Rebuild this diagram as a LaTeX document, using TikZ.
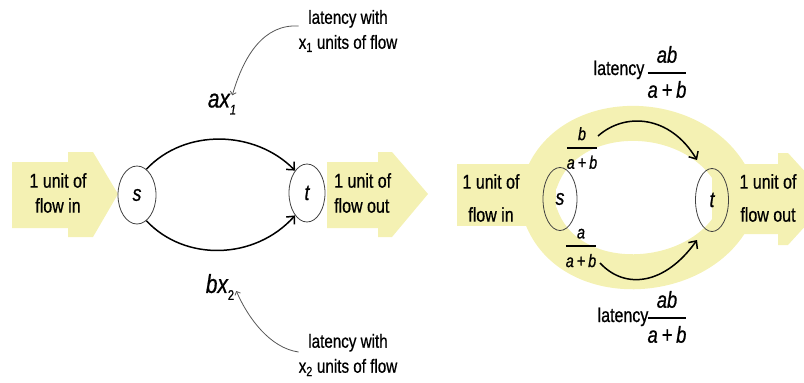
\documentclass[tikz,border=0pt]{standalone}
\usepackage{amsmath}
\usepackage{fontspec}
\setmainfont{Liberation Sans}[FakeStretch=0.8,FakeBold=0.7]
\usetikzlibrary{shapes.geometric,arrows.meta}
\definecolor{bandyel}{HTML}{F4F1B3}
\definecolor{inkgray}{HTML}{555555}
\newcommand\myfrac[2]{\ensuremath{\genfrac{}{}{2.2pt}{0}{\text{\itshape #1}}{\text{\itshape #2}}}}
\tikzset{
  band/.style={fill=bandyel,draw=none},
  lbl/.style={font=\fontsize{20}{25}\selectfont, align=center, inner sep=0pt},
  note/.style={font=\fontsize{19}{25}\selectfont, align=center, inner sep=0pt},
  nd/.style={ellipse, draw=black!75, line width=0.8pt, minimum width=38pt, minimum height=58pt, inner sep=0pt, font=\fontsize{22}{26}\selectfont\itshape},
  edgearr/.style={line width=1.5pt, -{Straight Barb[length=6pt,width=11pt,line width=1.5pt]}},
  ann/.style={draw=inkgray, line width=0.8pt, -{Straight Barb[length=3pt,width=6pt]}},
  var/.style={font=\fontsize{26}{30}\selectfont\itshape, inner sep=0pt},
  frc/.style={font=\fontsize{23}{28}\selectfont, inner sep=0pt},
  sfrc/.style={font=\fontsize{18}{22}\selectfont, inner sep=0pt},
  bandline/.style={draw=bandyel, line width=35pt}
}
\begin{document}
\begin{tikzpicture}[x=1pt,y=-1pt]
\useasboundingbox (0,0) rectangle (804,383);
\clip (0,0) rectangle (804,383);
% ---------------- left panel ----------------
\fill[band] (12,162) -- (68,162) -- (68,152) -- (93,152) -- (118,194) -- (93,237) -- (68,237) -- (68,228) -- (12,228) -- cycle;
\fill[band] (327,162) -- (378,162) -- (378,152) -- (392,152) -- (428,194) -- (392,237) -- (378,237) -- (378,228) -- (327,228) -- cycle;
\node[lbl] (in1) at (58,193) {1 unit of\\flow in};
\node[lbl, align=left, anchor=west] (out1) at (334,193) {1 unit of\\flow out};
\node[nd] (s) at (137,195) {s};
\node[nd, minimum width=36pt] (t) at (307,193) {t};
\draw[edgearr] (s.70) .. controls (185,128) and (255,130) .. (t.118);
\draw[edgearr] (s.-70) .. controls (185,262) and (255,260) .. (t.-118);
\node[var] (ax) at (222,104) {ax\raisebox{-7pt}{\fontsize{14}{14}\selectfont 1}};
\node[var] (bx) at (220,287) {bx\raisebox{-7pt}{\fontsize{14}{14}\selectfont\upshape 2}};
\node[note] (n1) at (348,31) {latency with\\x\textsubscript{1} units of flow};
\node[note] (n2) at (348,355) {latency with\\x\textsubscript{2} units of flow};
\draw[ann] ([yshift=5pt]n1.west) .. controls (264,24) and (244,55) .. ([shift={(-4pt,-2pt)}]ax.north east);
\draw[ann] ([yshift=3pt]n2.west) .. controls (270,348) and (248,318) .. ([xshift=2pt,yshift=-4pt]bx.east);
% ---------------- right panel ----------------
\fill[band] (457,164) rectangle (556,226);
\fill[band] (712,164) -- (778,164) -- (778,153) -- (788,153) -- (830,199) -- (788,245) -- (778,245) -- (778,234) -- (712,234) -- cycle;
\draw[bandline] (540,183) .. controls (566,102) and (700,105) .. (735,183);
\draw[bandline] (540,213) .. controls (566,294) and (700,288) .. (735,215);
\node[lbl, font=\fontsize{20}{33}\selectfont] (in2) at (491,198) {1 unit of\\flow in};
\node[lbl, font=\fontsize{20}{33}\selectfont] (out2) at (768,198) {1 unit of\\flow out};
\node[nd, minimum width=34pt, minimum height=63pt] (s2) at (560,199) {s};
\node[nd, minimum width=33pt, minimum height=63pt] (t2) at (712,200) {t};
\coordinate (u1) at (598,136);
\coordinate (u2) at (697,160);
\coordinate (l1) at (600,263);
\coordinate (l2) at (697,240);
\draw[edgearr] (u1) .. controls (625,112) and (670,115) .. (u2);
\draw[edgearr] (l1) .. controls (625,290) and (665,285) .. (l2);
\node[lbl, anchor=base] (lat1) at (619,75) {latency};
\node[frc] (f1) at (667,72) {\myfrac{ab}{a\,+\,b}};
\node[lbl, anchor=base] (lat2) at (623,322) {latency};
\node[frc] (f2) at (667,317) {\myfrac{ab}{a\,+\,b}};
\node[sfrc] (fb) at (582,148) {\myfrac{b}{a\,+\,b}};
\node[sfrc] (fa) at (581,248) {\myfrac{a}{a\,+\,b}};
\end{tikzpicture}
\end{document}
